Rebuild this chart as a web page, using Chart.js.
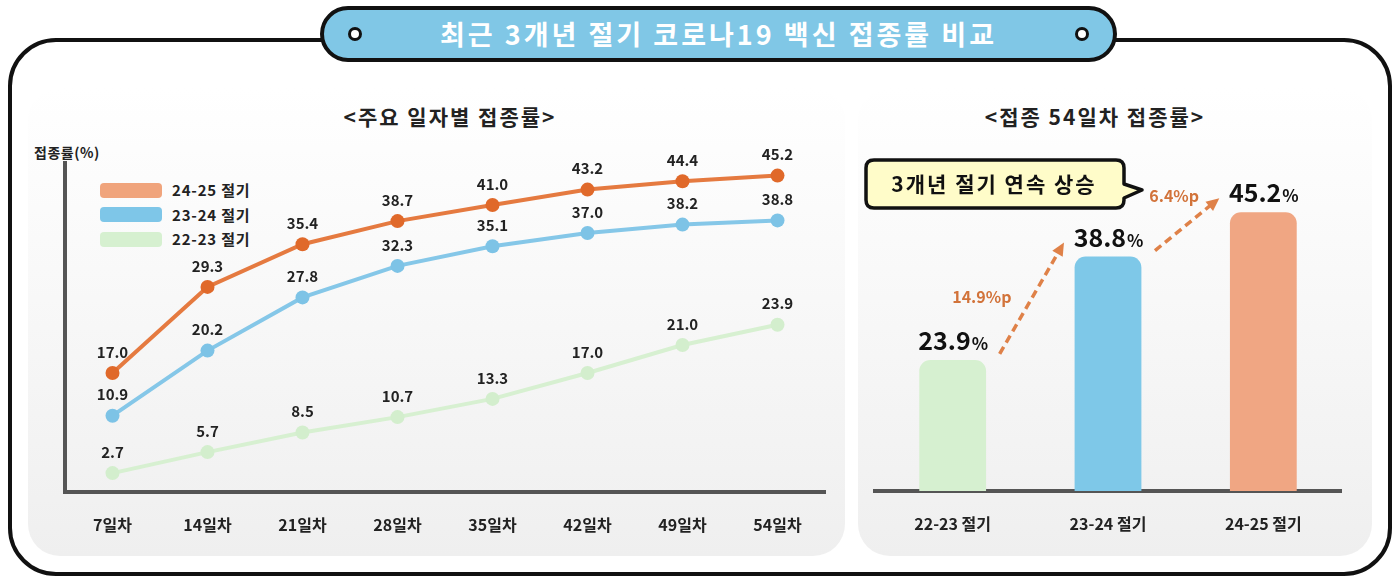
<!DOCTYPE html>
<html>
<head>
<meta charset="utf-8">
<script src="https://cdn.jsdelivr.net/npm/chart.js@4.4.1/dist/chart.umd.min.js"></script>
<style>
  html, body { margin: 0; padding: 0; background: #fff; }
  body { width: 1400px; height: 582px; position: relative; overflow: hidden; font-family: "Noto Sans CJK KR", "Noto Sans", sans-serif; }
  .abs { position: absolute; }
  #frame { left: 8px; top: 38px; width: 1376px; height: 530px; border: 4px solid #111; border-radius: 48px; }
  .panel { top: 88px; height: 468px; border-radius: 32px; background: linear-gradient(#ffffff 0%, #f8f8f8 45%, #efefef 100%); }
  #pill { left: 320px; top: 6px; width: 789px; height: 48px; border: 4px solid #111; border-radius: 30px; background: #80c7e6;
          color: #fff; font-weight: 700; font-size: 27px; letter-spacing: 3px; text-align: center; line-height: 48px; }
  .dot { top: 17px; width: 8px; height: 8px; border: 3px solid #111; border-radius: 50%; background: #fff; }
  .sect { top: 101px; font-weight: 700; font-size: 21px; letter-spacing: 2px; color: #222; width: 400px; text-align: center; }
  #ytitle { left: 34px; top: 142px; font-weight: 700; font-size: 14px; letter-spacing: 0.5px; color: #222; }
  .lg { left: 100px; height: 20px; font-weight: 700; font-size: 15px; letter-spacing: 0.8px; color: #222; line-height: 20px; }
  .lg span { display: inline-block; width: 62px; height: 15px; border-radius: 4px; vertical-align: middle; margin-right: 10px; margin-top: -3px; }
  canvas { position: absolute; }
</style>
</head>
<body>
<div id="frame" class="abs"></div>
<div class="abs panel" style="left:28px;width:817px;"></div>
<div class="abs panel" style="left:858px;width:514px;"></div>
<div id="pill" class="abs">최근 3개년 절기 코로나19 백신 접종률 비교
  <div class="abs dot" style="left:24px;"></div>
  <div class="abs dot" style="left:751px;"></div>
</div>
<div class="abs sect" style="left:250px;">&lt;주요 일자별 접종률&gt;</div>
<div class="abs sect" style="left:895px;">&lt;접종 54일차 접종률&gt;</div>
<div id="ytitle" class="abs">접종률(%)</div>
<div id="legend"></div>

<canvas id="lineChart" width="817" height="460" style="left:28px;top:95px;"></canvas>
<canvas id="barChart" width="514" height="460" style="left:858px;top:95px;"></canvas>

<svg class="abs" style="left:860px;top:156px;" width="300" height="60">
  <path d="M14 4 H256 Q264 4 264 12 V28 L282 34 L264 42 V44 Q264 52 256 52 H14 Q6 52 6 44 V12 Q6 4 14 4 Z"
        fill="#fffcc9" stroke="#111" stroke-width="3.5" stroke-linejoin="round"/>
  <text x="134" y="36" text-anchor="middle" font-family="Noto Sans CJK KR" font-weight="700" font-size="21" letter-spacing="2" fill="#111">3개년 절기 연속 상승</text>
</svg>

<script>
// 데이터
const days = ['7일차', '14일차', '21일차', '28일차', '35일차', '42일차', '49일차', '54일차'];
const seasonNames = ['24-25 절기', '23-24 절기', '22-23 절기'];
const rate2425 = [17.0, 29.3, 35.4, 38.7, 41.0, 43.2, 44.4, 45.2];
const rate2324 = [10.9, 20.2, 27.8, 32.3, 35.1, 37.0, 38.2, 38.8];
const rate2223 = [2.7, 5.7, 8.5, 10.7, 13.3, 17.0, 21.0, 23.9];

const barLabels = ['22-23 절기', '23-24 절기', '24-25 절기'];
const barValues = [23.9, 38.8, 45.2];

const lineColors = ['#e57a40', '#85c7e8', '#d7f0d1'];
const pointColors = ['#e0692a', '#7dc3e6', '#d3eecd'];
const swatchColors = ['#f0a47c', '#7ec6e8', '#d6f0d0'];
const barColors = ['#d6f0d0', '#7ec8e8', '#f0a683'];
const arrowColor = '#df8148';

const numFont = '"Noto Sans CJK KR", sans-serif';
const krFont = '"Noto Sans CJK KR", sans-serif';

// 범례 (HTML)
const legendBox = document.getElementById('legend');
seasonNames.forEach((n, i) => {
    const d = document.createElement('div');
    d.className = 'abs lg';
    d.style.top = (180 + i * 24.5) + 'px';
    d.innerHTML = `<span style="background:${swatchColors[i]}"></span>${n}`;
    legendBox.appendChild(d);
});

// 선 위 숫자 라벨
const lineLabels = {
    id: 'lineLabels',
    afterDatasetsDraw(chart) {
        const ctx = chart.ctx;
        ctx.save();
        ctx.font = 'bold 15px ' + numFont;
        ctx.fillStyle = '#222';
        ctx.textAlign = 'center';
        ctx.textBaseline = 'middle';
        chart.data.datasets.forEach((ds, i) => {
            chart.getDatasetMeta(i).data.forEach((pt, j) => {
                ctx.fillText(ds.data[j].toFixed(1), pt.x, pt.y - 21);
            });
        });
        ctx.restore();
    }
};

const seriesList = [rate2425, rate2324, rate2223];
new Chart(document.getElementById('lineChart'), {
    type: 'line',
    data: {
        labels: days,
        datasets: seriesList.map((s, i) => ({
            label: seasonNames[i],
            data: s,
            borderColor: lineColors[i],
            borderWidth: 4,
            pointRadius: 7,
            pointHoverRadius: 7,
            pointBackgroundColor: pointColors[i],
            pointBorderWidth: 0,
            tension: 0
        }))
    },
    options: {
        responsive: false,
        animation: false,
        layout: { padding: { top: 68, right: 20, left: 0, bottom: 0 } },
        plugins: { legend: { display: false }, tooltip: { enabled: false } },
        scales: {
            x: {
                offset: true,
                grid: { display: false },
                border: { display: true, color: '#555', width: 4 },
                ticks: { color: '#222', font: { family: numFont, size: 16, weight: 'bold' }, padding: 15 },
                afterFit: s => { s.height = 63; }
            },
            y: {
                min: 0, max: 47,
                grid: { display: false },
                border: { display: true, color: '#555', width: 4 },
                ticks: { display: false },
                afterFit: s => { s.width = 37; }
            }
        }
    },
    plugins: [lineLabels]
});

// 막대 라벨 + 화살표
const barExtras = {
    id: 'barExtras',
    afterDatasetsDraw(chart) {
        const ctx = chart.ctx;
        const bars = chart.getDatasetMeta(0).data;
        const vals = chart.data.datasets[0].data;
        ctx.save();
        ctx.textBaseline = 'alphabetic';
        ctx.fillStyle = '#111';
        bars.forEach((b, i) => {
            const t1 = vals[i].toFixed(1);
            ctx.font = 'bold 25px ' + krFont;
            const w1 = ctx.measureText(t1).width;
            ctx.font = 'bold 17px ' + krFont;
            const w2 = ctx.measureText('%').width;
            const sx = b.x - (w1 + w2) / 2;
            ctx.font = 'bold 25px ' + krFont;
            ctx.textAlign = 'left';
            ctx.fillText(t1, sx, b.y - 10);
            ctx.font = 'bold 17px ' + krFont;
            ctx.fillText('%', sx + w1 + 1, b.y - 10);
        });
        // 증가폭 화살표
        for (let i = 0; i < bars.length - 1; i++) {
            const a = bars[i], c = bars[i + 1];
            const x0 = a.x + 47, y0 = a.y - 6;
            const x1 = c.x - 44, y1 = c.y - 14;
            const ang = Math.atan2(y1 - y0, x1 - x0);
            ctx.strokeStyle = arrowColor;
            ctx.fillStyle = arrowColor;
            ctx.lineWidth = 3.5;
            ctx.setLineDash([8, 5]);
            ctx.beginPath();
            ctx.moveTo(x0, y0);
            ctx.lineTo(x1 - 8 * Math.cos(ang), y1 - 8 * Math.sin(ang));
            ctx.stroke();
            ctx.setLineDash([]);
            ctx.beginPath();
            ctx.moveTo(x1, y1);
            ctx.lineTo(x1 - 13 * Math.cos(ang) + 6 * Math.sin(ang), y1 - 13 * Math.sin(ang) - 6 * Math.cos(ang));
            ctx.lineTo(x1 - 13 * Math.cos(ang) - 6 * Math.sin(ang), y1 - 13 * Math.sin(ang) + 6 * Math.cos(ang));
            ctx.closePath();
            ctx.fill();
            const diff = (vals[i + 1] - vals[i]).toFixed(1) + '%p';
            const mx = (x0 + x1) / 2, my = (y0 + y1) / 2;
            ctx.font = 'bold 16px ' + krFont;
            ctx.fillStyle = '#d2733a';
            ctx.textAlign = 'center';
            if (i === 0) ctx.fillText(diff, mx - 50, my + 5);
            else ctx.fillText(diff, mx - 13, my - 22);
        }
        ctx.restore();
    }
};

new Chart(document.getElementById('barChart'), {
    type: 'bar',
    data: {
        labels: barLabels,
        datasets: [{
            data: barValues,
            backgroundColor: barColors,
            borderRadius: 11,
            borderSkipped: false,
            barPercentage: 0.43,
            categoryPercentage: 1
        }]
    },
    options: {
        responsive: false,
        animation: false,
        layout: { padding: { top: 70, right: 31, left: 17, bottom: 0 } },
        plugins: { legend: { display: false }, tooltip: { enabled: false } },
        scales: {
            x: {
                grid: { display: false },
                border: { display: true, color: '#555', width: 4 },
                ticks: { color: '#222', font: { family: krFont, size: 16, weight: 'bold' }, padding: 15 },
                afterFit: s => { s.height = 64; }
            },
            y: { display: false, min: 5, max: 52 }
        }
    },
    plugins: [barExtras]
});
</script>
</body>
</html>
